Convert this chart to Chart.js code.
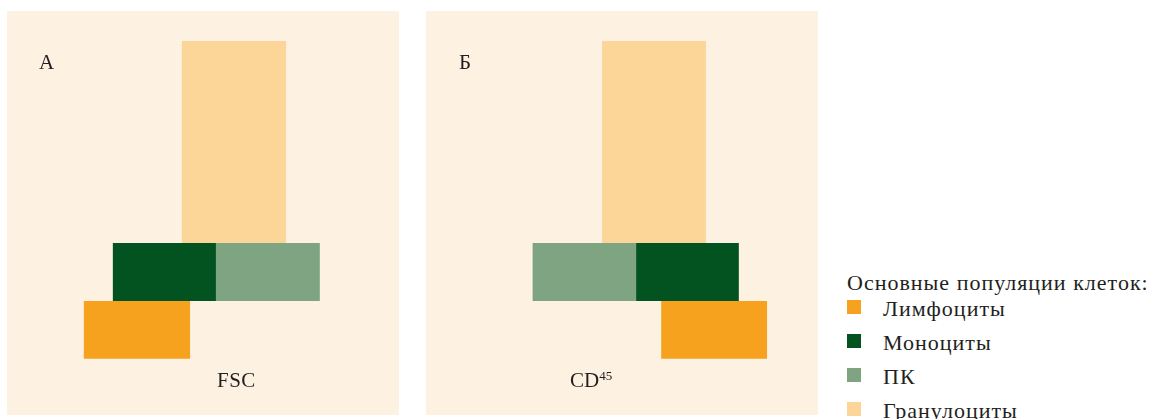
<!DOCTYPE html>
<html lang="ru">
<head>
<meta charset="utf-8">
<script src="https://cdn.jsdelivr.net/npm/chart.js@4"></script>
<style>
  body { margin: 0; background: #fff; width: 1150px; height: 419px; overflow: hidden; position: relative;
         font-family: "Liberation Serif", serif; color: #231f20; }
  .panel { position: absolute; top: 11px; width: 392px; height: 404px; background: #fdf1e1; }
  .lbl { position: absolute; font-size: 21px; line-height: 21px; white-space: nowrap; }
  .lbl sup { font-size: 13px; vertical-align: 0; position: relative; top: -7px; }
  .leg { position: absolute; font-size: 22px; line-height: 22px; letter-spacing: 1px; white-space: nowrap; }
  .sw { position: absolute; left: 847px; width: 14px; height: 14px; }
</style>
</head>
<body>

<div class="panel" style="left:7px">
  <canvas id="chartA"></canvas>
  <div class="lbl" style="left:32px; top:41px">А</div>
  <div class="lbl" style="left:210px; top:359px; letter-spacing:0.5px">FSC</div>
</div>
<div class="panel" style="left:426px">
  <canvas id="chartB"></canvas>
  <div class="lbl" style="left:33px; top:41px">Б</div>
  <div class="lbl" style="left:144px; top:359px">CD<sup>45</sup></div>
</div>

<div id="legend"></div>

<script>
// populations, in legend order
const populations = ['Лимфоциты', 'Моноциты', 'ПК', 'Гранулоциты']
const popColors = ['#f7a21e', '#02531f', '#7ea481', '#fcd599']

// panel A (FSC): rectangle edges per population, axis units 0..100
const fscLeft   = [19.6, 27.0, 53.3, 44.6]
const fscRight  = [46.7, 53.3, 79.8, 71.2]
const fscBottom = [13.9, 28.2, 28.2, 42.6]
const fscTop    = [28.2, 42.6, 42.6, 92.6]

// panel B (CD45)
const cdLeft   = [60.0, 53.6, 27.2, 44.9]
const cdRight  = [87.0, 79.8, 53.6, 71.4]
const cdBottom = [13.9, 28.2, 28.2, 42.6]
const cdTop    = [28.2, 42.6, 42.6, 92.6]

function rectDatasets(left, right, bottom, top) {
  return populations.map((name, i) => ({
    label: name,
    data: [
      { x: left[i], y: bottom[i] },
      { x: right[i], y: bottom[i] },
      { x: right[i], y: top[i] },
      { x: left[i], y: top[i] },
      { x: left[i], y: bottom[i] }
    ],
    showLine: true,
    fill: 'shape',
    backgroundColor: popColors[i],
    borderColor: 'rgba(0,0,0,0)',
    borderWidth: 0,
    pointRadius: 0,
    pointHoverRadius: 0,
    tension: 0
  }))
}

function makeChart(id, left, right, bottom, top) {
  new Chart(document.getElementById(id), {
    type: 'scatter',
    data: { datasets: rectDatasets(left, right, bottom, top) },
    options: {
      responsive: true,
      maintainAspectRatio: false,
      animation: false,
      layout: { padding: 0 },
      plugins: { legend: { display: false }, tooltip: { enabled: false } },
      scales: {
        x: { type: 'linear', min: 0, max: 100, display: false },
        y: { type: 'linear', min: 0, max: 100, display: false }
      }
    }
  })
}

makeChart('chartA', fscLeft, fscRight, fscBottom, fscTop)
makeChart('chartB', cdLeft, cdRight, cdBottom, cdTop)

// legend
const legend = document.getElementById('legend')
let html = '<div class="leg" style="left:847px; top:272px">Основные популяции клеток:</div>'
populations.forEach((name, i) => {
  const y = 300 + i * 34
  html += `<div class="sw" style="top:${y}px; background:${popColors[i]}"></div>`
  html += `<div class="leg" style="left:883px; top:${y - 2}px">${name}</div>`
})
legend.innerHTML = html
</script>
</body>
</html>
